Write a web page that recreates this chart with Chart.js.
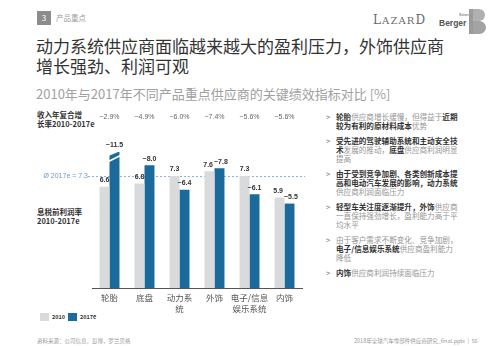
<!DOCTYPE html>
<html>
<head>
<meta charset="utf-8">
<script src="https://cdn.jsdelivr.net/npm/chart.js@4"></script>
<style>
  body { margin: 0; background: #fff; font-family: "Noto Sans CJK SC", "Noto Sans", sans-serif; }
  #page { position: relative; width: 500px; height: 346px; overflow: hidden; background: #fff; }
  #page div { position: absolute; white-space: nowrap; }
  #c { position: absolute; left: 0; top: 0; }
  .num { left: 37px; top: 11px; width: 14px; height: 14px; background: #8c8c8c; color: #fff; font-size: 8px; line-height: 14px; text-align: center; }
  .sec { left: 56px; top: 11px; font-size: 7.5px; line-height: 14px; color: #9a9a9a; }
  .title { left: 36px; top: 36px; font-size: 17px; line-height: 20px; color: #333; }
  .sub { left: 36px; top: 85px; font-size: 13px; line-height: 17px; color: #a0a0a0; }
  .lab { left: 37px; font-size: 7.5px; line-height: 8.6px; font-weight: bold; color: #333; }
  .note { left: 326px; font-size: 7.6px; line-height: 9px; color: #959595; }
  .note b { color: #333; }
  .note span.g { position: absolute; left: 0; top: 0; color: #666; }
  .note .t { margin-left: 10px; }
  .foot { top: 337px; font-size: 5.5px; line-height: 8px; color: #999; }
  .leg { top: 313px; width: 9px; height: 8px; }
  .legt { top: 313px; font-size: 5.5px; line-height: 8px; font-weight: bold; color: #333; }
</style>
</head>
<body>
<div id="page">
  <div class="num">3</div>
  <div class="sec">产品重点</div>
  <div style="left:373px;top:11px;font-family:'DejaVu Serif','Liberation Serif',serif;font-size:12px;letter-spacing:1.1px;color:#6a6a6a;line-height:18px;">L<span style="font-size:10px">AZAR</span>D</div>
  <div style="left:459px;top:13px;font-size:3.5px;color:#555;line-height:4px;">Roland</div>
  <div style="left:439px;top:18px;font-size:8.5px;font-weight:bold;color:#555;line-height:11px;font-family:'Liberation Sans',sans-serif;">Berger</div>
  <div style="left:469px;top:9px;width:8px;height:25px;background:#9a9a9a;"></div>
  <div style="left:473px;top:9px;width:12px;height:12px;background:#b0b0b0;border-radius:0 7px 7px 0;"></div>
  <div style="left:473px;top:21px;width:13px;height:13px;background:#a3a3a3;border-radius:0 7px 7px 0;"></div>

  <div class="title">动力系统供应商面临越来越大的盈利压力，外饰供应商<br>增长强劲、利润可观</div>
  <div class="sub">2010年与2017年不同产品重点供应商的关键绩效指标对比 [%]</div>

  <div class="lab" style="top:111px;">收入年复合增<br>长率2010-2017e</div>
  <div class="lab" style="top:208px;">息税前利润率<br>2010-2017e</div>

  <div class="note" style="top:112px;"><span class="g">&gt;</span><div class="t" style="position:static"><b>轮胎</b>供应商增长缓慢，但得益于<b>近期</b><br><b>较为有利的原材料成本</b>优势</div></div>
  <div class="note" style="top:136px;"><span class="g">&gt;</span><div class="t" style="position:static"><b>受先进的驾驶辅助系统和主动安全技</b><br><b>术</b>发展的推动，<b>底盘</b>供应商利润明显<br>提高</div></div>
  <div class="note" style="top:169px;"><span class="g">&gt;</span><div class="t" style="position:static"><b>由于受到竞争加剧、各类创新成本提</b><br><b>高和电动汽车发展的影响，动力系统</b><br>供应商利润面临压力</div></div>
  <div class="note" style="top:202px;"><span class="g">&gt;</span><div class="t" style="position:static"><b>轻型车关注度逐渐提升，外饰</b>供应商<br>一直保持强劲增长，盈利能力高于平<br>均水平</div></div>
  <div class="note" style="top:235px;"><span class="g">&gt;</span><div class="t" style="position:static">由于客户需求不断变化、竞争加剧，<br><b>电子/信息娱乐系统</b>供应商盈利能力<br>降低</div></div>
  <div class="note" style="top:268px;"><span class="g">&gt;</span><div class="t" style="position:static"><b>内饰</b>供应商利润持续面临压力</div></div>

  <div class="leg" style="left:40px;background:#d9dadb;"></div>
  <div class="legt" style="left:52px;">2010</div>
  <div class="leg" style="left:68px;background:#1b6a9c;"></div>
  <div class="legt" style="left:80px;">2017e</div>

  <div class="foot" style="left:37px;">资料来源：公司信息，彭博，罗兰贝格</div>
  <div class="foot" style="left:354px;">2018年全球汽车零部件供应商研究_final.pptx &nbsp;|&nbsp; 56</div>

  <canvas id="c" width="320" height="346"></canvas>
</div>
<script>
const categories = [['轮胎'], ['底盘'], ['动力系', '统'], ['外饰'], ['电子/信息', '娱乐系统'], ['内饰']];
const growthRates = ['~2.9%', '~4.9%', '~6.0%', '~7.4%', '~5.6%', '~5.6%'];
const ebit2010 = [6.6, 6.8, 7.3, 7.6, 7.3, 5.9];
const ebit2017 = [11.5, 8.0, 6.4, 7.8, 6.1, 5.5];
const average2017 = 7.3;
const axisMax = 8.86; // bars above this are drawn broken

const grayC = '#d9dadb';
const blueC = '#1b6a9c';

const overlay = {
  id: 'overlay',
  beforeDatasetsDraw(chart) {
    const ctx = chart.ctx, y = chart.scales.y, a = chart.chartArea;
    const py = Math.round(y.getPixelForValue(average2017)) + 0.5;
    ctx.save();
    ctx.strokeStyle = '#8fb3cf';
    ctx.lineWidth = 1;
    ctx.setLineDash([2, 2]);
    ctx.beginPath();
    ctx.moveTo(88, py);
    ctx.lineTo(a.right + 3, py);
    ctx.stroke();
    ctx.setLineDash([]);
    ctx.fillStyle = '#6f9cc2';
    ctx.font = '7px "Liberation Sans", sans-serif';
    ctx.textAlign = 'right';
    ctx.textBaseline = 'middle';
    ctx.fillText('Ø 2017e = ' + average2017, 88, py);
    ctx.restore();
  },
  afterDatasetsDraw(chart) {
    const ctx = chart.ctx, a = chart.chartArea, xs = chart.scales.x;
    ctx.save();
    // growth row
    ctx.fillStyle = '#666';
    ctx.font = '7px "Liberation Sans", sans-serif';
    ctx.textAlign = 'center';
    ctx.textBaseline = 'middle';
    growthRates.forEach((g, i) => ctx.fillText(g, xs.getPixelForValue(i), 117));

    // value labels
    ctx.font = 'bold 7px "Liberation Sans", sans-serif';
    ctx.textBaseline = 'bottom';
    ctx.fillStyle = '#333';
    const m0 = chart.getDatasetMeta(0).data, m1 = chart.getDatasetMeta(1).data;
    categories.forEach((c, i) => {
      const g = m0[i], b = m1[i];
      const gy = Math.max(g.y, a.top), by = Math.max(b.y, a.top);
      let gx = g.x, bx = b.x;
      const gt = String(ebit2010[i].toFixed(1)), bt = '~' + ebit2017[i].toFixed(1);
      const gw = ctx.measureText(gt).width, bw = ctx.measureText(bt).width;
      if (Math.abs(gy - by) < 9 && gx + gw / 2 > bx - bw / 2) {
        const ov = gx + gw / 2 - (bx - bw / 2) + 1;
        gx -= ov / 2; bx += ov / 2;
      }
      ctx.fillText(gt, gx, gy - 3);
      ctx.fillText(bt, bx, by - 3);
      // break mark for clipped bars
      [[g, ebit2010[i]], [b, ebit2017[i]]].forEach(([el, v]) => {
        if (v <= axisMax) return;
        const l = el.x - el.width / 2, r = el.x + el.width / 2;
        ctx.fillStyle = '#fff';
        ctx.beginPath();
        ctx.moveTo(l - 1, a.top - 1);
        ctx.lineTo(r + 1, a.top - 1);
        ctx.lineTo(l - 1, a.top + 4);
        ctx.closePath();
        ctx.fill();
        ctx.strokeStyle = '#fff';
        ctx.lineWidth = 1.6;
        ctx.beginPath();
        ctx.moveTo(l - 2, a.top + 10);
        ctx.lineTo(r + 2, a.top + 3);
        ctx.stroke();
        ctx.fillStyle = '#333';
      });
    });
    ctx.restore();
  }
};

new Chart(document.getElementById('c'), {
  type: 'bar',
  data: {
    labels: categories,
    datasets: [
      { label: '2010', data: ebit2010, backgroundColor: grayC },
      { label: '2017e', data: ebit2017, backgroundColor: blueC }
    ]
  },
  options: {
    responsive: false,
    animation: false,
    events: [],
    categoryPercentage: 0.57,
    barPercentage: 1.0,
    layout: { padding: { left: 92, right: 18, top: 152, bottom: 18 } },
    plugins: { legend: { display: false }, tooltip: { enabled: false } },
    scales: {
      x: {
        grid: { display: false, drawTicks: false },
        border: { display: true, color: '#555', width: 1 },
        ticks: { color: '#555', font: { family: '"Noto Sans CJK SC"', size: 8.5 }, padding: 5, maxRotation: 0, autoSkip: false },
        afterFit(s) { s.height = 40; }
      },
      y: { display: false, min: 0, max: axisMax }
    }
  },
  plugins: [overlay]
});
</script>
</body>
</html>
